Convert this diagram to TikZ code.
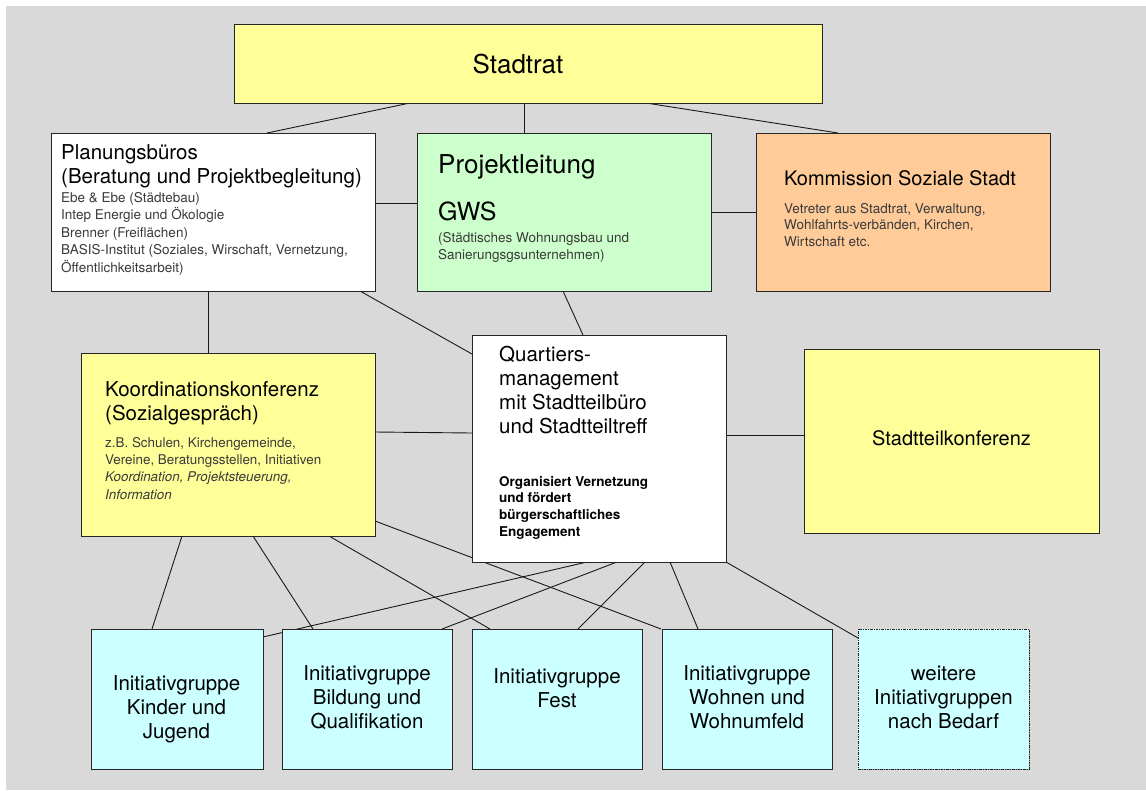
\documentclass[tikz,border=0pt]{standalone}
\usepackage{fontspec}
\setmainfont{TeX Gyre Heros}
\usetikzlibrary{calc,shadows}
\definecolor{bgc}{HTML}{D9D9D9}
\definecolor{yel}{HTML}{FFFF99}
\definecolor{grn}{HTML}{CCFFCC}
\definecolor{org}{HTML}{FFCC99}
\definecolor{cyn}{HTML}{CCFFFF}
\definecolor{subc}{HTML}{3A3A3A}
\pgfdeclarelayer{back}
\pgfdeclarelayer{mid}
\pgfsetlayers{back,mid,main}
\begin{document}
\begin{tikzpicture}[x=1pt,y=-1pt,
  box/.style={draw=black!85, line width=1pt, anchor=north west, inner sep=0pt, outer sep=0pt,
    drop shadow={shadow xshift=1pt,shadow yshift=-1pt,fill=black!40,opacity=1}},
  dashbox/.style={box, dash pattern=on 2.5pt off 1pt on 1pt off 1pt},
  link/.style={draw=black!90, line width=0.9pt},
  ttl/.style={anchor=north west, inner sep=0pt, align=left, font=\fontsize{20.5}{24}\selectfont},
  sml/.style={anchor=north west, inner sep=0pt, align=left, text=subc},
  grp/.style={anchor=north, inner sep=0pt, align=center, font=\fontsize{20.5}{24.3}\selectfont}
]
\useasboundingbox (0,0) rectangle (1146,790);
\begin{pgfonlayer}{back}
  \fill[white] (0,0) rectangle (1146,790);
  \fill[bgc] (6,6) rectangle (1146,790);
\end{pgfonlayer}

% boxes
\node[box, fill=yel, minimum width=588pt, minimum height=79pt] (st) at (234,24) {};
\node[box, fill=white, minimum width=324pt, minimum height=158pt] (pb) at (51,133) {};
\node[box, fill=grn, minimum width=294pt, minimum height=158pt] (pj) at (417,133) {};
\node[box, fill=org, minimum width=294pt, minimum height=158pt] (ko) at (756,133) {};
\node[box, fill=yel, minimum width=294pt, minimum height=183pt] (kk) at (81,353) {};
\node[box, fill=white, minimum width=254pt, minimum height=227pt] (qm) at (472,335) {};
\node[box, fill=yel, minimum width=295pt, minimum height=184pt] (stk) at (804,349) {};
\node[box, fill=cyn, minimum width=172pt, minimum height=140pt] (b1) at (91,629) {};
\node[box, fill=cyn, minimum width=170pt, minimum height=140pt] (b2) at (282,629) {};
\node[box, fill=cyn, minimum width=170pt, minimum height=140pt] (b3) at (472,629) {};
\node[box, fill=cyn, minimum width=170pt, minimum height=140pt] (b4) at (662,629) {};
\node[dashbox, fill=cyn, minimum width=171pt, minimum height=140pt] (b5) at (858,629) {};

% texts
\node[anchor=base, inner sep=0pt, font=\fontsize{26}{30}\selectfont] (stT) at (518,73) {Stadtrat};

\node[ttl] (pbT) at (61,142.2) {\strut Planungsbüros\\(Beratung und Projektbegleitung)};
\node[sml, font=\fontsize{13.5}{17.5}\selectfont] (pbS) at (61,189.75) {\strut Ebe \& Ebe (Städtebau)\\Intep Energie und Ökologie\\Brenner (Freiflächen)\\BASIS-Institut (Soziales, Wirschaft, Vernetzung,\\Öffentlichkeitsarbeit)};

\node[anchor=base west, inner sep=0pt, font=\fontsize{26}{30}\selectfont] (pjT) at (438,173) {Projektleitung};
\node[anchor=base west, inner sep=0pt, font=\fontsize{25}{30}\selectfont] (pjG) at (438,220) {GWS};
\node[sml, font=\fontsize{13.5}{17.5}\selectfont] (pjS) at (438,229.75) {\strut(Städtisches Wohnungsbau und\\Sanierungsgsunternehmen)};

\node[anchor=base west, inner sep=0pt, font=\fontsize{20}{24}\selectfont] (koT) at (784,185) {Kommission Soziale Stadt};
\node[sml, font=\fontsize{13.5}{16.5}\selectfont] (koS) at (784,201.45) {\strut Vetreter aus Stadtrat, Verwaltung,\\Wohlfahrts-verbänden, Kirchen,\\Wirtschaft etc.};

\node[ttl, font=\fontsize{20.5}{24.5}\selectfont] (kkT) at (105,378.85) {\strut Koordinationskonferenz\\(Sozialgespräch)};
\node[sml, font=\fontsize{13.4}{17.3}\selectfont] (kkS) at (105,434.9) {\strut z.B. Schulen, Kirchengemeinde,\\Vereine, Beratungsstellen, Initiativen\\\textit{Koordination, Projektsteuerung,}\\\textit{Information}};

\node[ttl] (qmT) at (499,344.2) {\strut Quartiers-\\management\\mit Stadtteilbüro\\und Stadtteiltreff};
\node[anchor=north west, inner sep=0pt, align=left, font=\fontsize{13.5}{16.7}\selectfont\bfseries] (qmS) at (499,474.3) {\strut Organisiert Vernetzung\\und fördert\\bürgerschaftliches\\Engagement};

\node[anchor=base, inner sep=0pt, font=\fontsize{20}{24}\selectfont] (stkT) at (951.5,445) {Stadtteilkonferenz};

\node[grp] (b1T) at (176.5,673) {\strut Initiativgruppe\\Kinder und\\Jugend};
\node[grp] (b2T) at (367,663) {\strut Initiativgruppe\\Bildung und\\Qualifikation};
\node[grp] (b3T) at (557,666) {\strut Initiativgruppe\\Fest};
\node[grp] (b4T) at (747,663) {\strut Initiativgruppe\\Wohnen und\\Wohnumfeld};
\node[grp] (b5T) at (943.5,663) {\strut weitere\\Initiativgruppen\\nach Bedarf};

% connectors
\begin{pgfonlayer}{mid}
\draw[link] (410,0 |- st.south) -- (267,0 |- pb.north);
\draw[link] (524,0 |- st.south) -- (524,0 |- pj.north);
\draw[link] (646,0 |- st.south) -- (838,0 |- ko.north);
\draw[link] (pb.east |- 0,203) -- (pj.west |- 0,203);
\draw[link] (pj.east |- 0,212) -- (ko.west |- 0,212);
\draw[link] (208,0 |- pb.south) -- (208,0 |- kk.north);
\draw[link] (360,0 |- pb.south) -- (qm.west |- 0,354);
\draw[link] (563,0 |- pj.south) -- (583,0 |- qm.north);
\draw[link] (kk.east |- 0,432) -- (qm.west |- 0,433);
\draw[link] (qm.east |- 0,435) -- (stk.west |- 0,435);
\draw[link] (182,0 |- kk.south) -- (152,0 |- b1.north);
\draw[link] (253,0 |- kk.south) -- (313,0 |- b2.north);
\draw[link] (329,0 |- kk.south) -- (490,0 |- b3.north);
\draw[link] (kk.east |- 0,521) -- (661,0 |- b4.north);
\draw[link] (587,0 |- qm.south) -- (b1.east |- 0,637);
\draw[link] (617,0 |- qm.south) -- (442,0 |- b2.north);
\draw[link] (645,0 |- qm.south) -- (578,0 |- b3.north);
\draw[link] (670,0 |- qm.south) -- (698,0 |- b4.north);
\draw[link] (qm.south east) -- (b5.west |- 0,638);
\end{pgfonlayer}
\end{tikzpicture}
\end{document}
